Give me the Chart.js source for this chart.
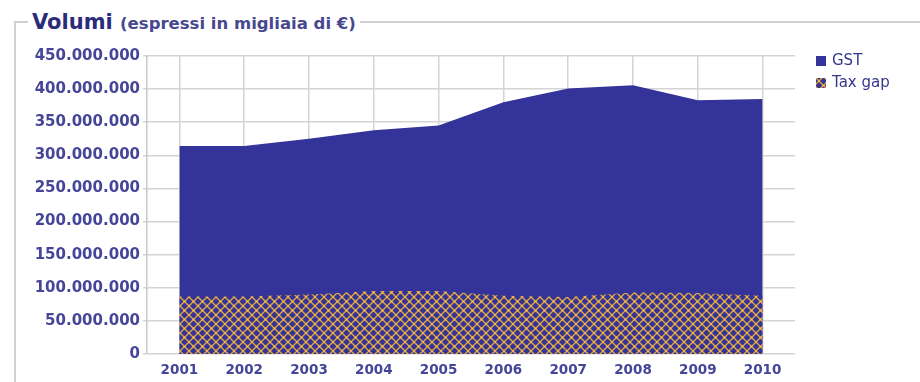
<!DOCTYPE html>
<html>
<head>
<meta charset="utf-8">
<script src="https://cdn.jsdelivr.net/npm/chart.js@4/dist/chart.umd.min.js"></script>
<style>
  html, body { margin: 0; padding: 0; background: #fff; }
  #wrap { position: relative; width: 920px; height: 382px; overflow: hidden; }
  #frame {
    position: absolute; left: 14px; top: 21px; width: 940px; height: 420px;
    border-left: 2px solid #d0d0d0; border-top: 2px solid #d0d0d0;
  }
  #heading {
    position: absolute; left: 28px; top: 12px; padding: 0 4px; background: #fff;
    white-space: nowrap; font-family: "DejaVu Sans", sans-serif; font-weight: bold;
    font-size: 21px; line-height: 20px;
  }
  #heading .main { font-size: 21px; color: #2b2b7a; }
  #heading .sub { font-size: 16.5px; color: #48488f; }
  #chart { position: absolute; left: 0; top: 0; }
</style>
</head>
<body>
<div id="wrap">
  <div id="frame"></div>
  <div id="heading"><span class="main">Volumi</span> <span class="sub">(espressi in migliaia di €)</span></div>
  <canvas id="chart" width="920" height="382"></canvas>
</div>
<script>
// Years on the horizontal axis
const years = ['2001', '2002', '2003', '2004', '2005', '2006', '2007', '2008', '2009', '2010'];

// Volumes in thousands of euro
const gstValues = [314000000, 314000000, 325000000, 338000000, 345000000, 380000000, 401000000, 406000000, 383000000, 385000000];
const taxGapValues = [87000000, 87000000, 90000000, 95000000, 95000000, 88000000, 86000000, 93000000, 92000000, 88000000];

// Vertical axis range
const yMin = 0;
const yMax = 450000000;
const yStep = 50000000;

const seriesNames = ['GST', 'Tax gap'];

const navy = '#333399';
const amber = '#dfa63e';

// Thousands separated with dots, Italian style
function formatThousands(v) {
  return String(Math.round(v)).replace(/\B(?=(\d{3})+(?!\d))/g, '.');
}

// Blue cell crossed by amber diagonals, tiled into a lattice
function latticePattern(ctx) {
  const n = 9;
  const tile = document.createElement('canvas');
  tile.width = n; tile.height = n;
  const g = tile.getContext('2d');
  g.fillStyle = navy;
  g.fillRect(0, 0, n, n);
  g.strokeStyle = amber;
  g.lineWidth = 1.4;
  g.beginPath();
  g.moveTo(-1, -1); g.lineTo(n + 1, n + 1);
  g.moveTo(-1, n + 1); g.lineTo(n + 1, -1);
  g.stroke();
  g.fillStyle = '#f3ba4c';
  [[n / 2, n / 2], [0, 0], [n, 0], [0, n], [n, n]].forEach(([x, y]) => {
    g.beginPath(); g.arc(x, y, 1.1, 0, Math.PI * 2); g.fill();
  });
  return ctx.createPattern(tile, 'repeat');
}

// Key drawn to the right of the plot, one row per dataset
const sideKey = {
  id: 'sideKey',
  afterDraw(chart, args, opts) {
    const { ctx, chartArea } = chart;
    ctx.save();
    ctx.font = opts.font;
    ctx.textBaseline = 'middle';
    ctx.textAlign = 'left';
    chart.data.datasets.forEach((ds, i) => {
      const x = chartArea.right + opts.offsetX;
      const y = chartArea.top + opts.offsetY + i * opts.step;
      ctx.fillStyle = ds.backgroundColor;
      ctx.fillRect(x, Math.round(y - opts.box / 2), opts.box, opts.box);
      ctx.fillStyle = opts.color;
      ctx.fillText(ds.label, x + opts.box + opts.gap, y);
    });
    ctx.restore();
  }
};

const canvas = document.getElementById('chart');
const ctx = canvas.getContext('2d');
const gridColor = '#d4d4d4';
const tickColor = '#45459a';

new Chart(ctx, {
  type: 'line',
  data: {
    labels: years,
    datasets: [
      {
        label: seriesNames[0],
        data: gstValues,
        backgroundColor: navy,
        borderColor: navy,
        borderWidth: 0,
        pointRadius: 0,
        fill: 'origin',
        tension: 0,
        order: 2
      },
      {
        label: seriesNames[1],
        data: taxGapValues,
        backgroundColor: latticePattern(ctx),
        borderColor: 'rgba(0,0,0,0)',
        borderWidth: 0,
        pointRadius: 0,
        fill: 'origin',
        tension: 0,
        order: 1
      }
    ]
  },
  options: {
    responsive: false,
    animation: false,
    devicePixelRatio: 1,
    layout: { padding: { left: 0, top: 56, right: 125, bottom: 0 } },
    plugins: {
      legend: { display: false },
      tooltip: { enabled: false },
      sideKey: {
        offsetX: 21, offsetY: 5, step: 22, box: 10, gap: 6,
        font: '15px "DejaVu Sans"', color: '#36368c'
      }
    },
    scales: {
      x: {
        type: 'category',
        offset: true,
        grid: { color: gridColor, lineWidth: 1.5, drawTicks: false, offset: false },
        border: { display: false },
        ticks: {
          color: tickColor,
          padding: 8,
          font: { family: 'DejaVu Sans', size: 13.5, weight: 'bold' },
          maxRotation: 0,
          autoSkip: false
        },
        afterFit(scale) { scale.height = 28; }
      },
      y: {
        min: yMin,
        max: yMax,
        grid: { color: gridColor, lineWidth: 1.5, drawTicks: true, tickLength: 4 },
        border: { display: true, color: '#c8c8c8', width: 1.5 },
        ticks: {
          stepSize: yStep,
          color: tickColor,
          padding: 3,
          font: { family: 'DejaVu Sans', size: 15, weight: 'bold' },
          callback: (v) => formatThousands(v)
        },
        afterFit(scale) { scale.width = 147; }
      }
    }
  },
  plugins: [sideKey]
});
</script>
</body>
</html>
